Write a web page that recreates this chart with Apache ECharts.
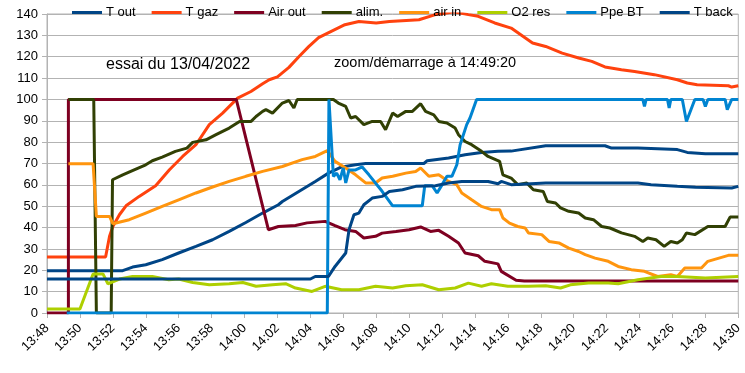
<!DOCTYPE html>
<html>
<head>
<meta charset="utf-8">
<script src="https://cdn.jsdelivr.net/npm/echarts@6/dist/echarts.min.js"></script>
<style>html,body{margin:0;padding:0;background:#fff}#c{width:745px;height:373px}</style>
</head>
<body>
<div id="c"></div>
<script>
// time in minutes after 13:48
const tickLabels = ['13:48','13:50','13:52','13:54','13:56','13:58','14:00','14:02','14:04','14:06','14:08','14:10','14:12','14:14','14:16','14:18','14:20','14:22','14:24','14:26','14:28','14:30'];
const seriesNames = ['T out','T gaz','Air out','alim.','air in','O2 res','Ppe BT','T back'];

const tOut = [[0,19.8],[4.6,19.8],[5.2,21.5],[6.0,22.6],[7.0,25],[8.0,28.1],[9.05,31.2],[10.06,34.3],[11.07,38.2],[12.08,42.4],[13.1,46.8],[14.06,50.7],[14.3,52.2],[15.3,56.9],[16.3,61.6],[17.1,65.5],[17.9,68.4],[18.75,69.4],[19.36,70],[22.9,70],[23.1,71.3],[24.4,72.6],[25.4,74.1],[26.4,75.2],[27.4,75.7],[28.2,75.8],[30.3,78.3],[33.9,78.3],[34.3,77.2],[35.9,77.2],[38.3,76.5],[38.9,75.2],[40,74.6],[42,74.6]];

const tGaz = [[0,26.2],[3.56,26.2],[3.8,35.9],[4.0,40.5],[4.4,46],[4.8,50.2],[5.6,54.6],[6.6,59.6],[7.44,67.1],[8.24,73.3],[9.05,78.8],[9.86,88.2],[10.67,93.6],[11.58,100.6],[12.39,103.7],[13.1,107.3],[13.5,109.2],[14.0,110.6],[14.7,115],[15.3,120],[15.9,124.7],[16.5,128.9],[17.3,132],[18.1,135],[18.95,136.5],[20.0,135.8],[20.8,136.5],[22.6,137.3],[23.6,139.7],[24.2,140.4],[24.7,141],[25.6,139.7],[26.2,138.9],[27.2,135.8],[28.2,133.4],[29.5,126.4],[30.3,124.8],[31.3,121.7],[32.3,119.4],[33.1,117.8],[33.9,115.2],[34.9,113.9],[35.7,113.1],[36.9,111.6],[38.3,109.2],[38.9,107.7],[39.5,106.9],[41.4,106.4],[41.6,105.8],[42,106.4]];

const airOut = [[0,0],[1.3,0],[1.3,100],[11.5,100],[13.45,39],[14.06,40.5],[15.1,41],[15.8,42.2],[16.9,42.9],[17.5,40.9],[18.1,39],[18.75,38.2],[19.25,35.1],[19.96,35.9],[20.36,37.4],[21.2,38.2],[22,39],[22.7,40.3],[23.3,38.2],[23.8,38.7],[24.4,35.9],[25,32.8],[25.4,28.1],[26.2,26.8],[26.6,24.2],[27.4,23],[27.6,19.5],[28.5,15.3],[29,15],[42,15]];

const alim = [[1.3,100],[2.84,100],[3.0,0],[3.9,0],[3.98,62.4],[4.6,64.7],[5.4,67.4],[6.0,69.4],[6.4,71.3],[7.0,73],[7.8,75.7],[8.5,77.2],[8.85,79.9],[9.66,81.1],[10.27,83.5],[11.07,86.6],[11.7,89.7],[12.4,89.7],[12.7,92],[13.1,94.4],[13.3,95.2],[13.7,93.6],[14.3,98.3],[14.7,99.5],[15.0,96],[15.2,100],[17.4,100],[17.7,98.3],[18.15,96.7],[18.45,91.3],[18.75,92],[19.25,88.2],[19.76,89.7],[20.27,89.7],[20.57,85.8],[21,93.6],[21.3,92],[21.8,94.4],[22.2,94.4],[22.7,98],[23.0,94.4],[23.5,92.8],[23.8,89.7],[24.3,89],[24.8,86.6],[25.0,83.5],[25.4,80.3],[25.8,78.8],[26.4,75.7],[26.8,73.3],[27.5,71],[27.7,64.7],[28.2,63.2],[28.6,60.1],[29.15,60.9],[29.55,57.7],[30.15,56.9],[30.4,52.2],[30.9,51.5],[31.2,49.2],[31.7,47.6],[32.3,46.8],[32.7,44.5],[33.2,43.7],[33.7,40.5],[34.2,39.8],[34.9,37.5],[35.7,35.9],[36.2,33.5],[36.5,35.1],[37.0,34.3],[37.5,31.2],[37.9,33.5],[38.3,32.8],[38.6,34.3],[38.85,37.5],[39.36,36.7],[40.15,40.5],[41.2,40.5],[41.5,44.9],[42,44.9]];

const airIn = [[1.3,69.9],[2.8,69.9],[3.0,45.2],[3.8,45.2],[4.0,41.8],[5.0,43.7],[6.0,46.8],[7.0,49.9],[8.0,53],[9.05,56.2],[10.06,59],[11.07,61.6],[12.08,64],[13.1,66.3],[14.3,68.6],[15.5,71.8],[16.3,73.3],[17.03,76],[17.5,71],[18.15,67.9],[18.75,64.7],[19.36,60.9],[19.96,60.9],[20.36,63.2],[21,64],[21.8,65.5],[22.4,66.3],[22.7,67.9],[23.2,64],[23.8,64.7],[24.4,61.6],[24.9,60.1],[25.2,56.2],[25.8,53],[26.4,49.9],[27.0,48.4],[27.5,48.4],[27.7,44.5],[28.1,42.1],[28.6,40.5],[29.05,39.8],[29.25,37.5],[30.06,36.7],[30.5,33.5],[31.1,32.8],[31.7,30.4],[32.3,28.8],[32.7,27.3],[33.3,25.7],[34.1,24.2],[34.7,21.8],[35.5,20.3],[36.3,19.5],[37.1,17.1],[37.9,17.9],[38.3,17.1],[38.75,21.1],[39.76,21.1],[40.15,24.2],[41.4,27],[42,27]];

const o2Res = [[0,1.9],[2.0,1.9],[2.8,18.3],[3.4,18.3],[3.7,13.7],[4.4,15.9],[5.2,17.1],[6.4,17.1],[7.4,15.6],[8.0,15.9],[8.85,14.3],[9.86,13.2],[11.07,13.7],[11.9,14.3],[12.7,12.5],[13.7,13.2],[14.5,13.7],[15.1,11.7],[16.1,10.1],[16.9,12.5],[17.9,10.9],[18.95,10.9],[19.96,12.5],[21,11.7],[21.8,12.8],[22.8,13.2],[23.8,10.9],[24.8,11.7],[25.6,14],[26.4,12.5],[27.0,13.7],[28.0,12.5],[29.25,12.5],[30.3,12.8],[31.2,11.7],[31.8,13.2],[32.9,14],[34.1,14],[34.7,13.7],[35.9,15.6],[37.3,17.1],[38.3,17.1],[40,16.4],[42,17.1]];

const ppeBT = [[1.2,0],[17.03,0],[17.13,100],[17.2,100],[17.4,64],[17.6,65.5],[17.8,62.4],[18.0,67.9],[18.15,60.9],[18.35,67],[18.75,67],[19.15,68.4],[19.56,64.7],[20.36,57],[21,50.2],[22.8,50.2],[22.95,59.6],[23.4,59.6],[23.7,56.2],[24.0,60],[24.3,64],[24.6,64],[24.9,69.4],[25.1,78.8],[25.5,88.2],[25.7,91.3],[26.1,100],[36.2,100],[36.3,96.7],[36.4,100],[37.7,100],[37.8,96],[37.9,100],[38.6,100],[38.85,89.7],[39.36,100],[39.86,100],[40.0,96.7],[40.15,100],[41.2,100],[41.33,95.2],[41.6,100],[42,100]];

const tBack = [[0,15.9],[16.0,15.9],[16.3,17.1],[17.1,17.1],[17.5,21.8],[18.15,28.1],[18.35,39],[18.65,46],[18.95,46.8],[19.25,50.7],[19.76,53.8],[20.36,54.6],[20.8,56.9],[21.6,57.7],[22.4,59.3],[23.6,59.6],[24.4,60.9],[25.2,61.6],[26.8,61.6],[27.4,60.5],[27.6,61.6],[28.2,60.1],[30.3,60.9],[35.9,60.9],[36.7,60.1],[38.3,59.3],[39.4,58.9],[41.6,58.5],[42,59.3]];

const seriesData = [tOut, tGaz, airOut, alim, airIn, o2Res, ppeBT, tBack];
const colors = ['#004586','#ff420e','#7e0021','#314004','#ff950e','#aecf00','#0084d1','#004586'];

const chart = echarts.init(document.getElementById('c'));
const font = 'Liberation Sans, Arial, sans-serif';
chart.setOption({
  animation: false,
  color: colors,
  textStyle: { fontFamily: font },
  grid: { left: 47, right: 5, top: 14, bottom: 60, show: true, borderColor: '#b3b3b3', borderWidth: 1 },
  legend: {
    left: 72, top: 6, padding: 0, icon: 'rect', itemWidth: 30, itemHeight: 3, itemGap: 16,
    textStyle: { fontSize: 13, color: '#000', fontFamily: font, padding: [0,0,0,-1] },
    data: seriesNames
  },
  xAxis: {
    type: 'value', min: 0, max: 42, interval: 2,
    axisLine: { show: true, lineStyle: { color: '#b3b3b3' } },
    axisTick: { show: true, length: 5, lineStyle: { color: '#b3b3b3' } },
    splitLine: { show: false },
    axisLabel: { rotate: 45, fontSize: 13, color: '#000', margin: 13, fontFamily: font,
      formatter: v => tickLabels[Math.round(v / 2)] }
  },
  yAxis: {
    type: 'value', min: 0, max: 140, interval: 10,
    axisLine: { show: true, lineStyle: { color: '#b3b3b3' } },
    axisTick: { show: true, length: 5, lineStyle: { color: '#b3b3b3' } },
    splitLine: { show: true, lineStyle: { color: '#b3b3b3' } },
    axisLabel: { fontSize: 13, color: '#000', margin: 9, fontFamily: font }
  },
  graphic: [
    { type: 'text', left: 106, top: 57, style: { text: 'essai du 13/04/2022', font: '16px ' + font, fill: '#000' } },
    { type: 'text', left: 334, top: 55, style: { text: 'zoom/démarrage à 14:49:20', font: '14.5px ' + font, fill: '#000' } }
  ],
  series: seriesNames.map((n, i) => ({
    name: n, type: 'line', data: seriesData[i], symbol: 'none', clip: true,
    lineStyle: { width: 3, color: colors[i] }, itemStyle: { color: colors[i] }
  }))
});
</script>
</body>
</html>
